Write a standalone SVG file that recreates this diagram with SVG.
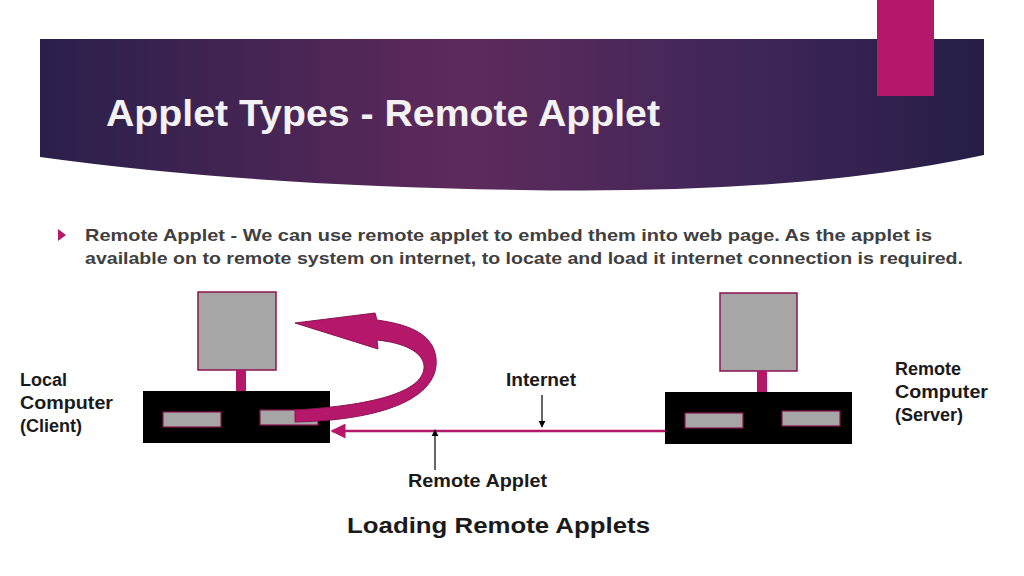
<svg xmlns="http://www.w3.org/2000/svg" width="1024" height="576" viewBox="0 0 1024 576">
<defs>
<linearGradient id="bg" x1="0" y1="0" x2="1" y2="0">
<stop offset="0" stop-color="#2a1f4a"/><stop offset="0.45" stop-color="#5e2a5c"/><stop offset="0.75" stop-color="#3f2658"/><stop offset="1" stop-color="#261d45"/>
</linearGradient>
<marker id="pk" viewBox="0 0 10 10" refX="9" refY="5" markerWidth="6" markerHeight="6" orient="auto"><path d="M0,0 L10,5 L0,10 z" fill="#b5176a"/></marker>
<marker id="bk" viewBox="0 0 10 10" refX="9" refY="5" markerWidth="6" markerHeight="6" orient="auto"><path d="M0,0 L10,5 L0,10 z" fill="#000"/></marker>
<style>
.t{font-family:"Liberation Sans",Arial,sans-serif;font-weight:bold;fill:#1a1a1a;font-size:18px}
.mon{fill:#a6a6a6;stroke:#8a1450;stroke-width:1.5}
.neck{fill:#b5176a}
.base{fill:#000}
.slot{fill:#a6a6a6;stroke:#8a1450;stroke-width:1.2}
</style>
</defs>
<rect width="1024" height="576" fill="#fff"/>
<path d="M40,39 H984 V155 Q800,195 520,190 Q250,186 40,157 Z" fill="url(#bg)"/>
<rect x="877" y="0" width="57" height="96" fill="#b5176a"/>
<text x="106" y="126" textLength="554" lengthAdjust="spacingAndGlyphs" style="font-family:'Liberation Sans',Arial,sans-serif;font-weight:bold;font-size:37px;fill:#f2f2f2">Applet Types - Remote Applet</text>
<path d="M58,229 L66,235 L58,241 Z" fill="#b5176a"/>
<text style="font-family:'Liberation Sans',Arial,sans-serif;font-weight:bold;font-size:17px;fill:#404040"><tspan x="85" y="241" textLength="847" lengthAdjust="spacingAndGlyphs">Remote Applet - We can use remote applet to embed them into web page. As the applet is</tspan><tspan x="85" y="264" textLength="878" lengthAdjust="spacingAndGlyphs">available on to remote system on internet, to locate and load it internet connection is required.</tspan></text>
<g id="client">
<rect class="mon" x="198" y="292" width="78" height="78"/>
<rect class="neck" x="236" y="370" width="10" height="21"/>
<rect class="base" x="143" y="391" width="187" height="52"/>
<rect class="slot" x="163" y="412" width="58" height="15"/>
<rect class="slot" x="260" y="410" width="58" height="15"/>
</g>
<g id="server">
<rect class="mon" x="720" y="293" width="77" height="78"/>
<rect class="neck" x="757" y="371" width="10" height="21"/>
<rect class="base" x="665" y="392" width="187" height="52"/>
<rect class="slot" x="685" y="413" width="58" height="15"/>
<rect class="slot" x="782" y="411" width="58" height="15"/>
</g>
<g id="connectors">
<line x1="665" y1="431" x2="332" y2="431" stroke="#b5176a" stroke-width="2.5" marker-end="url(#pk)"/>
<path d="M295,410 L295,422 C390,420 440,395 436,358 C433,332 405,324 377,320 L375,313 L295,323 L378,349 L377,340 C405,343 422,352 424,365 C426,390 380,405 295,410 Z" fill="#b5176a" stroke="#8a1450" stroke-width="1"/>
<line x1="542" y1="395" x2="542" y2="427" stroke="#000" stroke-width="1.2" marker-end="url(#bk)"/>
<line x1="435" y1="470" x2="435" y2="430" stroke="#000" stroke-width="1.2" marker-end="url(#bk)"/>
</g>
<text class="t"><tspan x="20" y="386">Local</tspan><tspan x="20" y="409" textLength="93" lengthAdjust="spacingAndGlyphs">Computer</tspan><tspan x="20" y="432">(Client)</tspan></text>
<text class="t" x="506" y="386" textLength="70" lengthAdjust="spacingAndGlyphs">Internet</text>
<text class="t"><tspan x="895" y="375">Remote</tspan><tspan x="895" y="398" textLength="93" lengthAdjust="spacingAndGlyphs">Computer</tspan><tspan x="895" y="421">(Server)</tspan></text>
<text class="t" x="408" y="487" textLength="139" lengthAdjust="spacingAndGlyphs">Remote Applet</text>
<text class="t" x="347" y="533" textLength="303" lengthAdjust="spacingAndGlyphs" style="font-size:22px">Loading Remote Applets</text>
</svg>
